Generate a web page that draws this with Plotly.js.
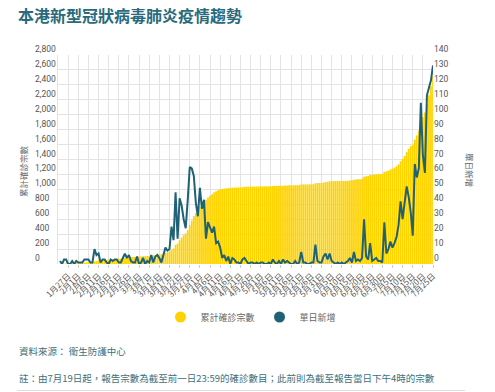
<!DOCTYPE html>
<html>
<head>
<meta charset="utf-8">
<script src="https://cdn.plot.ly/plotly-3.0.1.min.js"></script>
<style>
html,body{margin:0;padding:0;background:#fff;}
#chart{width:495px;height:392px;}
</style>
</head>
<body>
<div id="chart"></div>
<script>
// ---- data ----
const startDate = '2020-01-23';
const dayMs = 86400000;

const dailyNew = [
  2,0,3,3,0,0,2,0,2,
  1,1,1,3,3,3,1,1,10,6,7,1,3,3,1,0,3,2,3,3,1,1,4,7,4,6,2,1,1,
  5,0,1,4,0,2,1,6,1,5,6,4,1,6,11,9,10,25,16,48,17,44,39,30,24,43,65,64,59,41,32,
  51,37,43,17,28,24,21,25,14,15,11,4,6,2,5,0,4,3,1,1,0,3,4,2,0,1,1,0,1,0,
  1,1,0,0,1,0,3,1,0,2,0,3,1,2,1,0,0,2,0,1,8,1,1,0,0,1,1,13,2,1,1,
  5,7,3,7,2,1,0,1,0,1,0,1,2,4,1,8,2,3,2,4,30,5,3,14,2,3,4,2,2,1,
  28,7,10,15,11,14,18,26,42,30,40,52,45,35,19,67,58,64,108,73,61,113,118,123,133
];

const cumulative = [
  2,2,5,8,8,8,10,10,12,
  13,14,15,18,21,24,25,26,36,42,49,50,53,56,57,57,60,62,65,68,69,70,74,81,85,91,93,94,95,
  100,100,101,105,105,107,108,114,115,120,126,130,131,137,148,157,167,192,208,256,273,317,356,386,410,453,518,582,641,682,714,
  765,802,845,862,890,914,935,960,974,989,1000,1004,1010,1012,1017,1017,1021,1024,1025,1026,1026,1029,1033,1035,1035,1036,1037,1037,1038,1038,
  1039,1040,1040,1040,1041,1041,1044,1045,1045,1047,1047,1050,1051,1053,1054,1054,1054,1056,1056,1057,1065,1066,1067,1067,1067,1068,1069,1082,1084,1085,1086,
  1091,1098,1101,1108,1110,1111,1111,1112,1112,1113,1113,1114,1116,1120,1121,1129,1131,1134,1136,1140,1170,1175,1178,1192,1194,1197,1201,1203,1205,1206,
  1234,1241,1251,1266,1277,1291,1309,1335,1377,1407,1447,1499,1544,1579,1598,1665,1723,1787,1895,1968,2029,2142,2260,2383,2516
];

const tickDates = [
  '2020-01-27','2020-02-01','2020-02-06','2020-02-11','2020-02-16','2020-02-21','2020-02-26',
  '2020-03-02','2020-03-07','2020-03-12','2020-03-17','2020-03-22','2020-03-27',
  '2020-04-01','2020-04-06','2020-04-11','2020-04-16','2020-04-21','2020-04-26',
  '2020-05-01','2020-05-06','2020-05-11','2020-05-16','2020-05-21','2020-05-26','2020-05-31',
  '2020-06-05','2020-06-10','2020-06-15','2020-06-20','2020-06-25','2020-06-30',
  '2020-07-05','2020-07-10','2020-07-15','2020-07-20','2020-07-25'
];
const tickLabels = [
  '1月27日','2月1日','2月6日','2月11日','2月16日','2月21日','2月26日',
  '3月2日','3月7日','3月12日','3月17日','3月22日','3月27日',
  '4月1日','4月6日','4月11日','4月16日','4月21日','4月26日',
  '5月1日','5月6日','5月11日','5月16日','5月21日','5月26日','5月31日',
  '6月5日','6月10日','6月15日','6月20日','6月25日','6月30日',
  '7月5日','7月10日','7月15日','7月20日','7月25日'
];

const seriesNames = ['累計確診宗數', '單日新增'];
const chartTitle = '本港新型冠狀病毒肺炎疫情趨勢';
const leftTitle = '累計確診宗數';
const rightTitle = '單日新增';
const sourceText = '資料來源： 衛生防護中心';
const noteText = '註：由7月19日起，報告宗數為截至前一日23:59的確診數目；此前則為截至報告當日下午4時的宗數';

// ---- style ----
const YELLOW = '#FFD300';
const TEAL = '#1F6275';
const TITLE_TEAL = '#2A6A7C';
const GRID = '#E3E3E3';
const LABEL = '#555555';
const FONT = "Roboto, 'Noto Sans CJK TC', sans-serif";
const CJK = "'Noto Sans CJK TC', Roboto, sans-serif";

const W = 495, H = 392;
const mL = 0, mR = 62, mT = 55, mB = 128;
const pw = W - mL - mR, ph = H - mT - mB;
const px = x => (x - mL) / pw;
const py = y => (H - mB - y) / ph;

const traces = [
  {
    type: 'bar', x0: startDate, dx: dayMs, y: cumulative,
    marker: {color: YELLOW, line: {width: 0}},
    yaxis: 'y', xaxis: 'x', showlegend: false, hoverinfo: 'skip'
  },
  {
    type: 'scatter', mode: 'lines', x0: startDate, dx: dayMs, y: dailyNew,
    line: {color: TEAL, width: 2},
    yaxis: 'y2', xaxis: 'x', showlegend: false, hoverinfo: 'skip'
  },
  {
    type: 'scatter', mode: 'markers', x: [null], y: [null], name: seriesNames[0],
    marker: {color: YELLOW, size: 11, symbol: 'circle'}, yaxis: 'y3', showlegend: true
  },
  {
    type: 'scatter', mode: 'markers', x: [null], y: [null], name: seriesNames[1],
    marker: {color: TEAL, size: 11, symbol: 'circle'}, yaxis: 'y2', showlegend: true
  }
];

const layout = {
  width: W, height: H,
  margin: {l: mL, r: mR, t: mT, b: mB, pad: 0},
  paper_bgcolor: '#fff', plot_bgcolor: '#fff',
  font: {family: FONT, size: 8.5, color: LABEL},
  bargap: 0.12,
  showlegend: true,
  title: {
    text: chartTitle, xref: 'container', yref: 'container',
    x: 18 / W, xanchor: 'left', y: 1 - 16 / H, yanchor: 'middle',
    font: {family: CJK, size: 16, weight: 700, color: TITLE_TEAL}
  },
  xaxis: {
    type: 'date', domain: [px(58), 1],
    range: ['2020-01-22', '2020-07-25'],
    tickmode: 'array', tickvals: tickDates, ticktext: tickLabels,
    tickangle: -45, tickfont: {family: CJK, size: 8.2, color: LABEL},
    ticks: 'outside', ticklen: 3, tickcolor: '#cccccc',
    showgrid: true, gridcolor: GRID, gridwidth: 1,
    showline: false, zeroline: false, fixedrange: true
  },
  yaxis: {
    range: [0, 2800], dtick: 200, tick0: 0,
    showticklabels: false, ticks: '',
    showgrid: true, gridcolor: GRID, gridwidth: 1,
    zeroline: false, showline: true, linecolor: GRID, linewidth: 1,
    fixedrange: true
  },
  yaxis2: {
    overlaying: 'y', side: 'right', anchor: 'x',
    range: [0, 140], dtick: 10, tick0: 0,
    showgrid: false, zeroline: false, showline: false, ticks: '',
    ticklabelposition: 'outside top',
    tickfont: {family: FONT, size: 8.5, color: LABEL},
    fixedrange: true
  },
  yaxis3: {
    overlaying: 'y', side: 'right', anchor: 'free', position: px(34),
    range: [0, 2800], dtick: 200, tick0: 0, tickformat: ',d',
    showgrid: false, zeroline: false, showline: false, ticks: '',
    ticklabelposition: 'outside top',
    tickfont: {family: FONT, size: 8.5, color: LABEL},
    fixedrange: true
  },
  legend: {
    orientation: 'h', x: px(251), xanchor: 'center', y: py(317), yanchor: 'middle',
    font: {family: CJK, size: 9, color: '#666666'},
    itemsizing: 'trace', itemwidth: 30, bgcolor: 'rgba(0,0,0,0)'
  },
  annotations: [
    {text: leftTitle, xref: 'paper', yref: 'paper', x: px(23), y: py(171),
     xanchor: 'center', yanchor: 'middle', showarrow: false, textangle: -90,
     font: {family: CJK, size: 8.5, color: '#666666'}},
    {text: rightTitle, xref: 'paper', yref: 'paper', x: px(470), y: py(170),
     xanchor: 'center', yanchor: 'middle', showarrow: false, textangle: 90,
     font: {family: CJK, size: 8.5, color: '#666666'}},
    {text: sourceText, xref: 'paper', yref: 'paper', x: px(17), y: py(351),
     xanchor: 'left', yanchor: 'middle', showarrow: false,
     font: {family: CJK, size: 9.5, color: '#3E6F7C'}},
    {text: noteText, xref: 'paper', yref: 'paper', x: px(17), y: py(378),
     xanchor: 'left', yanchor: 'middle', showarrow: false,
     font: {family: CJK, size: 9.5, color: '#3E6F7C'}}
  ],
  shapes: [
    {type: 'line', xref: 'paper', yref: 'paper', x0: px(17), x1: px(465), y0: py(390.5), y1: py(390.5),
     line: {color: '#DDDDDD', width: 1}}
  ]
};

Plotly.newPlot('chart', traces, layout, {displayModeBar: false, staticPlot: true});
</script>
</body>
</html>
